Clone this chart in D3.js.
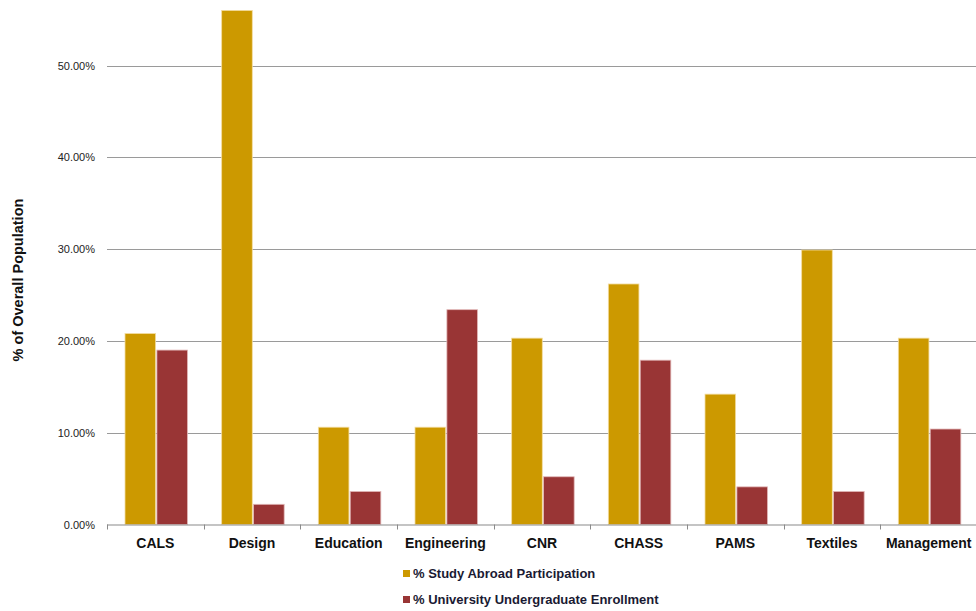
<!DOCTYPE html>
<html>
<head>
<meta charset="utf-8">
<script src="https://cdn.jsdelivr.net/npm/d3@7"></script>
<style>
  body { margin: 0; background: #fff; }
  svg { display: block; font-family: "Liberation Sans", Arial, sans-serif; }
</style>
</head>
<body>
<div id="chart"></div>
<script>
// colleges and the two series (percent)
var colleges = ["CALS", "Design", "Education", "Engineering", "CNR", "CHASS", "PAMS", "Textiles", "Management"];
var studyAbroad = [20.8, 56.0, 10.6, 10.6, 20.3, 26.2, 14.2, 29.9, 20.3];
var enrollment = [19.0, 2.2, 3.6, 23.4, 5.2, 17.9, 4.1, 3.6, 10.4];
var seriesNames = ["% Study Abroad Participation", "% University Undergraduate Enrollment"];
var colors = ["#cc9900", "#993535"];
var yTicks = [0, 10, 20, 30, 40, 50];

var width = 976, height = 611;
var margin = {left: 107, right: 0, top: 0, bottom: 86};
var plotBottom = 524.5;

var svg = d3.select("#chart").append("svg")
  .attr("width", width)
  .attr("height", height);

var x = d3.scaleBand()
  .domain(colleges)
  .range([margin.left, width + 1])
  .paddingInner(0)
  .paddingOuter(0);

// 10% ~ 91.8px
var y = d3.scaleLinear()
  .domain([0, 60])
  .range([plotBottom, plotBottom - 6 * 91.8]);

var sub = d3.scaleBand()
  .domain([0, 1])
  .range([18, 80.5])
  .paddingInner(0.04);

// gridlines
svg.append("g")
  .selectAll("line")
  .data(yTicks.filter(function(d) { return d > 0; }))
  .enter().append("line")
  .attr("x1", margin.left)
  .attr("x2", width)
  .attr("y1", function(d) { return Math.round(y(d)) + 0.5; })
  .attr("y2", function(d) { return Math.round(y(d)) + 0.5; })
  .attr("stroke", "#9a9a9a")
  .attr("stroke-width", 1);

// y tick labels
svg.append("g")
  .selectAll("text")
  .data(yTicks)
  .enter().append("text")
  .attr("x", 95)
  .attr("y", function(d) { return y(d) + 4; })
  .attr("text-anchor", "end")
  .attr("font-size", "11px")
  .attr("fill", "#222")
  .text(function(d) { return d.toFixed(2) + "%"; });

// bars
var groups = svg.append("g")
  .selectAll("g")
  .data(colleges)
  .enter().append("g")
  .attr("transform", function(d) { return "translate(" + x(d) + ",0)"; });

groups.append("rect")
  .attr("x", sub(0))
  .attr("width", sub.bandwidth())
  .attr("y", function(d, i) { return y(studyAbroad[i]); })
  .attr("height", function(d, i) { return plotBottom - y(studyAbroad[i]); })
  .attr("fill", colors[0])
  .attr("stroke", "#f3dca0")
  .attr("stroke-width", 0.8);

groups.append("rect")
  .attr("x", sub(1))
  .attr("width", sub.bandwidth())
  .attr("y", function(d, i) { return y(enrollment[i]); })
  .attr("height", function(d, i) { return plotBottom - y(enrollment[i]); })
  .attr("fill", colors[1])
  .attr("stroke", "#e2b8b8")
  .attr("stroke-width", 0.8);

// x axis line and ticks
svg.append("line")
  .attr("x1", margin.left)
  .attr("x2", width)
  .attr("y1", plotBottom + 0.5)
  .attr("y2", plotBottom + 0.5)
  .attr("stroke", "#8a8a8a")
  .attr("stroke-width", 1.2);

svg.append("g")
  .selectAll("line")
  .data(colleges)
  .enter().append("line")
  .attr("x1", function(d) { return Math.round(x(d)) + 0.5; })
  .attr("x2", function(d) { return Math.round(x(d)) + 0.5; })
  .attr("y1", plotBottom)
  .attr("y2", plotBottom + 5)
  .attr("stroke", "#8a8a8a");

// category labels
svg.append("g")
  .selectAll("text")
  .data(colleges)
  .enter().append("text")
  .attr("x", function(d) { return x(d) + x.bandwidth() / 2; })
  .attr("y", 548)
  .attr("text-anchor", "middle")
  .attr("font-size", "14px")
  .attr("font-weight", "bold")
  .attr("fill", "#111")
  .text(function(d) { return d; });

// y axis title
svg.append("text")
  .attr("transform", "translate(23,280) rotate(-90)")
  .attr("text-anchor", "middle")
  .attr("font-size", "14.5px")
  .attr("font-weight", "bold")
  .attr("fill", "#111")
  .text("% of Overall Population");

// legend
var legend = svg.append("g")
  .selectAll("g")
  .data(seriesNames)
  .enter().append("g")
  .attr("transform", function(d, i) { return "translate(403," + (575 + i * 26) + ")"; });

legend.append("rect")
  .attr("x", 0)
  .attr("y", -5)
  .attr("width", 7)
  .attr("height", 7)
  .attr("fill", function(d, i) { return colors[i]; });

legend.append("text")
  .attr("x", 10)
  .attr("y", 3)
  .attr("font-size", "13px")
  .attr("font-weight", "bold")
  .attr("fill", "#1a1a33")
  .text(function(d) { return d; });
</script>
</body>
</html>
